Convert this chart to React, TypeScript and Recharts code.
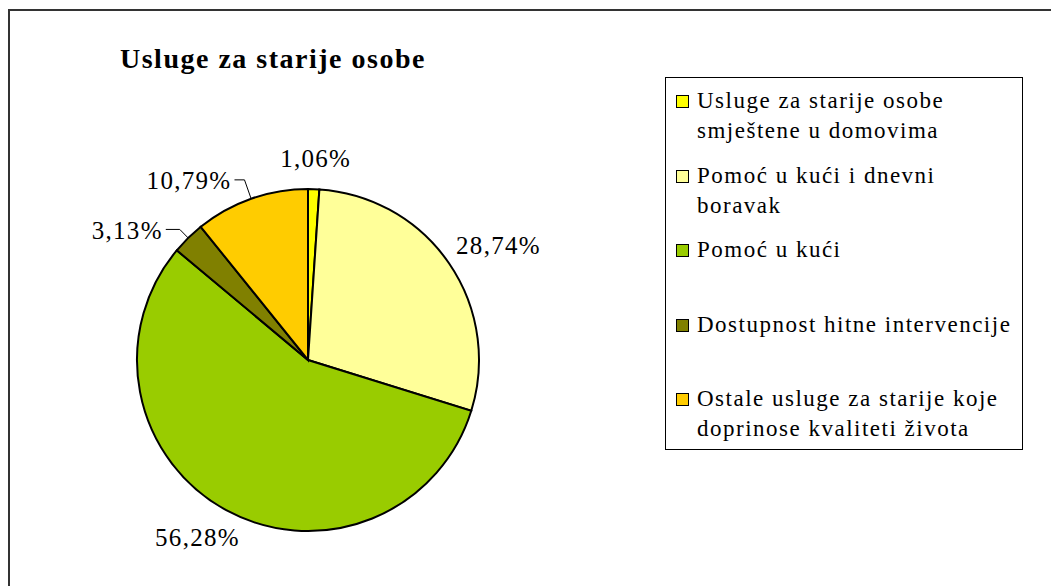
import React from 'react';
import { PieChart, Pie, Cell, Legend } from 'recharts';

const categories = [
  'Usluge za starije osobe smještene u domovima',
  'Pomoć u kući i dnevni boravak',
  'Pomoć u kući',
  'Dostupnost hitne intervencije',
  'Ostale usluge za starije koje doprinose kvaliteti života',
];
const legendLines = [
  ['Usluge za starije osobe', 'smještene u domovima'],
  ['Pomoć u kući i dnevni', 'boravak'],
  ['Pomoć u kući'],
  ['Dostupnost hitne intervencije'],
  ['Ostale usluge za starije koje', 'doprinose kvaliteti života'],
];
const values = [1.06, 28.74, 56.28, 3.13, 10.79];
const colors = ['#FFFF00', '#FFFF99', '#99CC00', '#808000', '#FFCC00'];
const title = 'Usluge za starije osobe';

const data = categories.map((name, i) => ({ name, value: values[i] }));

const FONT = '"Liberation Serif", "Times New Roman", serif';
const RAD = Math.PI / 180;

const fmt = (v: number) => v.toFixed(2).replace('.', ',') + '%';

const renderLabel = (props: any) => {
  const { cx, cy, midAngle, outerRadius, index, value } = props;
  const cos = Math.cos(midAngle * RAD);
  const sin = Math.sin(midAngle * RAD);
  const text = fmt(value);
  const textStyle = { fontFamily: FONT, fontSize: 25, letterSpacing: 1.3, fill: '#000' };
  if (index === 3 || index === 4) {
    const er = outerRadius + (index === 4 ? 20 : 12);
    const px = cx + outerRadius * cos;
    const py = cy - outerRadius * sin;
    const ex = cx + er * cos;
    const ey = cy - er * sin;
    const hx = ex - (index === 4 ? 10 : 14);
    return (
      <g>
        <polyline points={`${px},${py} ${ex},${ey} ${hx},${ey}`} fill="none" stroke="#000" strokeWidth={1} />
        <text x={hx - 3} y={ey + 1} textAnchor="end" dominantBaseline="central" style={textStyle}>
          {text}
        </text>
      </g>
    );
  }
  const r = outerRadius + 20;
  const halfW = 40;
  const halfH = 11;
  const x = cx + r * cos + cos * halfW;
  const y = cy - r * sin - sin * halfH;
  return (
    <text x={x} y={y} textAnchor="middle" dominantBaseline="central" style={textStyle}>
      {text}
    </text>
  );
};

const renderLegend = () => (
  <div
    style={{
      position: 'relative',
      width: 356,
      height: 371,
      border: '1px solid #000',
      background: '#fff',
      fontFamily: FONT,
      fontSize: 23,
      letterSpacing: 1.5,
      lineHeight: '30px',
      color: '#000',
    }}
  >
    {legendLines.map((lines, i) => (
      <div key={i} style={{ position: 'absolute', left: 0, top: 8 + i * 74.5, width: 356 }}>
        <div
          style={{
            position: 'absolute',
            left: 10,
            top: 9,
            width: 11,
            height: 11,
            background: colors[i],
            border: '1.5px solid #000',
          }}
        />
        <div style={{ position: 'absolute', left: 31, top: 0, whiteSpace: 'nowrap' }}>
          {lines.map((l, j) => (
            <div key={j}>{l}</div>
          ))}
        </div>
      </div>
    ))}
  </div>
);

export default function App() {
  return (
    <div style={{ position: 'absolute', left: 0, top: 0, width: 1051, height: 586, overflow: 'hidden', background: '#fff' }}>
      <div
        style={{
          position: 'absolute',
          left: 8,
          top: 9,
          width: 1100,
          height: 700,
          border: '2px solid #333',
        }}
      />
      <div
        style={{
          position: 'absolute',
          left: 120,
          top: 43,
          fontFamily: FONT,
          fontWeight: 'bold',
          fontSize: 28,
          letterSpacing: 1.5,
          color: '#000',
          whiteSpace: 'nowrap',
        }}
      >
        {title}
      </div>
      <div style={{ position: 'absolute', left: 0, top: 0 }}>
        <PieChart width={1051} height={586} margin={{ top: 0, right: 0, bottom: 0, left: 0 }}>
          <Pie
            data={data}
            dataKey="value"
            nameKey="name"
            cx={308}
            cy={360}
            outerRadius={171}
            startAngle={90}
            endAngle={-270}
            stroke="#000"
            strokeWidth={2}
            label={renderLabel}
            labelLine={false}
            isAnimationActive={false}
          >
            {data.map((d, i) => (
              <Cell key={d.name} fill={colors[i]} />
            ))}
          </Pie>
          <Legend
            content={renderLegend}
            wrapperStyle={{ position: 'absolute', left: 665, top: 77, width: 358, height: 373 }}
          />
        </PieChart>
      </div>
    </div>
  );
}
